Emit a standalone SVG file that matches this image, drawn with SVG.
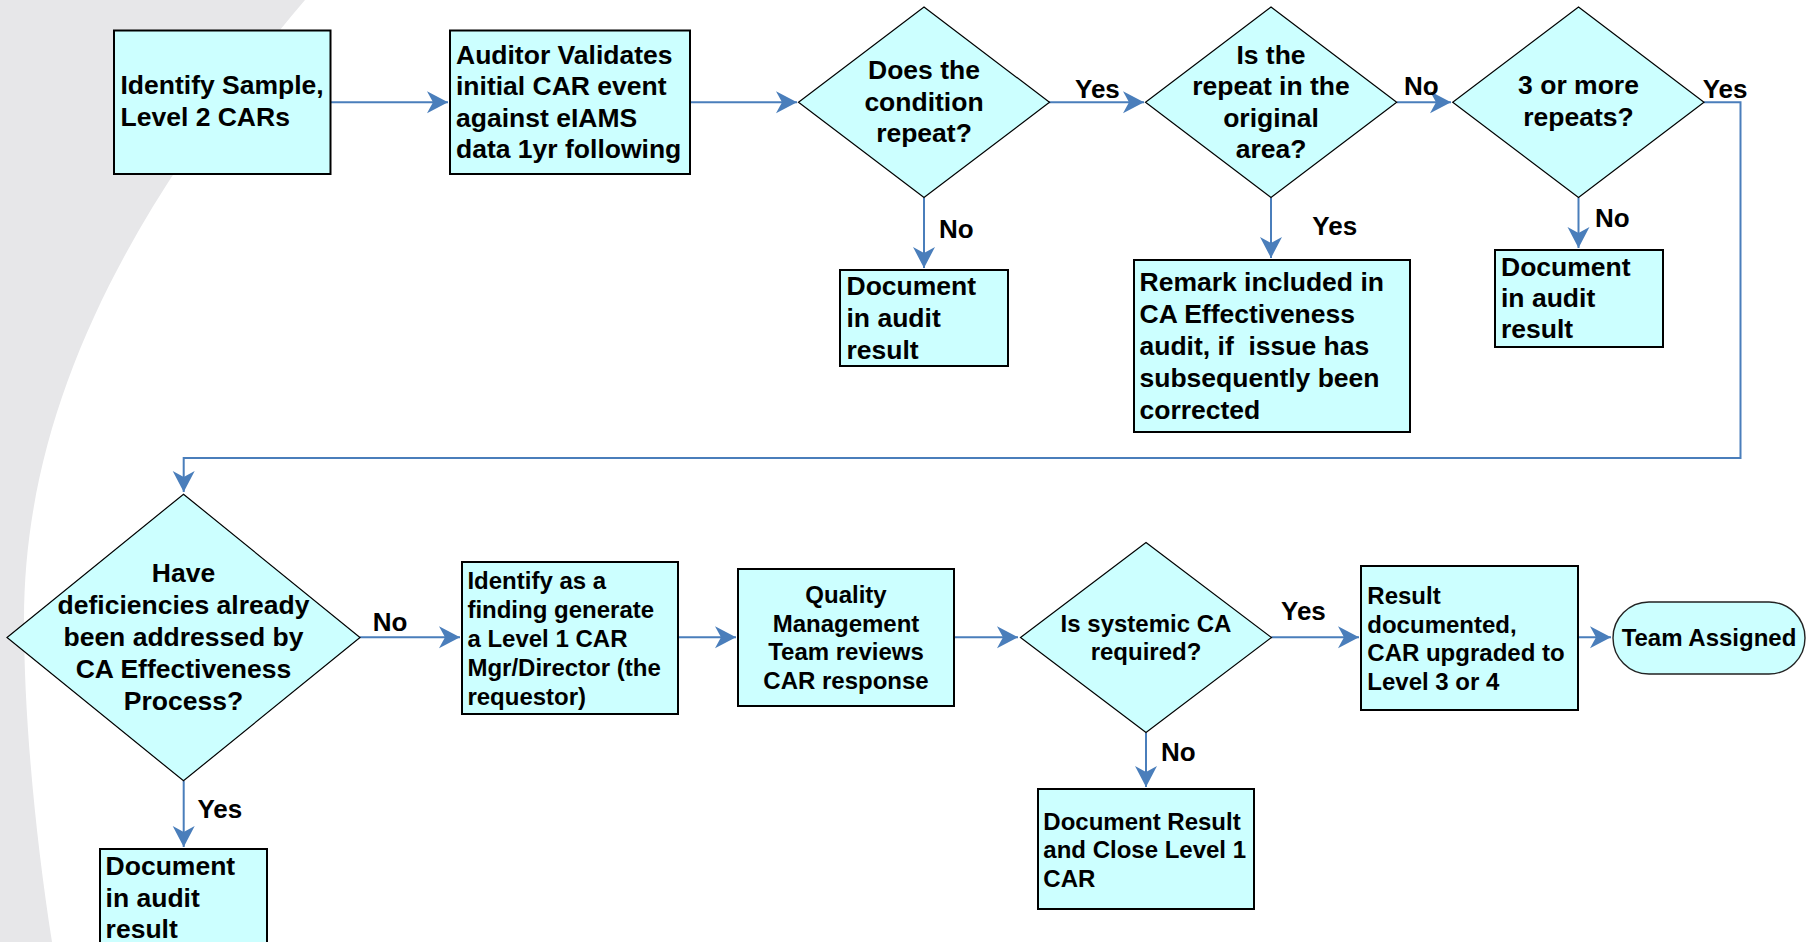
<svg xmlns="http://www.w3.org/2000/svg" width="1813" height="942" viewBox="0 0 1813 942">
<style>
.bg{fill:#E7E7E9}
.box{fill:#CCFFFF;stroke:#000;stroke-width:2}
.dia{fill:#CCFFFF;stroke:#000;stroke-width:1.2}
.term{fill:#CCFFFF;stroke:#222;stroke-width:1.4}
text{font-family:"Liberation Sans",Arial,sans-serif;font-weight:bold;fill:#000}
.t{font-size:26.5px}
.s{font-size:24px}
.c{text-anchor:middle}
.lbl{font-size:26px}
.con{fill:none;stroke:#4A7EBB;stroke-width:2}
</style>
<defs>
<marker id="ah" viewBox="-22 -12 24 24" refX="0" refY="0" markerWidth="24" markerHeight="24" markerUnits="userSpaceOnUse" orient="auto">
<path d="M0,0 L-21,-11 L-15,0 L-21,11 Z" fill="#4A7EBB"/>
</marker>
</defs>
<path class="bg" d="M0,0 L305,0 C135,200 24,400 24,620 C24,720 36,840 52,942 L0,942 Z"/>
<g id="connectors">
<path class="con" d="M331,102.3 H448" marker-end="url(#ah)"/>
<path class="con" d="M690,102.3 H797" marker-end="url(#ah)"/>
<path class="con" d="M1049,102.3 H1144" marker-end="url(#ah)"/>
<path class="con" d="M1397,102.3 H1451" marker-end="url(#ah)"/>
<path class="con" d="M1704,102.3 H1740.5 V458 H183.7 V492" marker-end="url(#ah)"/>
<path class="con" d="M924,197.5 V268" marker-end="url(#ah)"/>
<path class="con" d="M1271,197.5 V258" marker-end="url(#ah)"/>
<path class="con" d="M1578.5,197.5 V248" marker-end="url(#ah)"/>
<path class="con" d="M360,637.3 H460" marker-end="url(#ah)"/>
<path class="con" d="M678,637.3 H736" marker-end="url(#ah)"/>
<path class="con" d="M954,637.3 H1018" marker-end="url(#ah)"/>
<path class="con" d="M1271.5,637.3 H1359" marker-end="url(#ah)"/>
<path class="con" d="M1578,637.3 H1611" marker-end="url(#ah)"/>
<path class="con" d="M1146,732.5 V787" marker-end="url(#ah)"/>
<path class="con" d="M183.7,781 V847" marker-end="url(#ah)"/>
</g>
<g id="labels">
<text class="lbl" x="1075" y="98">Yes</text>
<text class="lbl" x="1404" y="94.8">No</text>
<text class="lbl" x="1702.7" y="98.3">Yes</text>
<text class="lbl" x="939" y="238">No</text>
<text class="lbl" x="1312.3" y="234.5">Yes</text>
<text class="lbl" x="1595" y="227">No</text>
<text class="lbl" x="372.8" y="630.5">No</text>
<text class="lbl" x="197.4" y="817.5">Yes</text>
<text class="lbl" x="1281" y="620">Yes</text>
<text class="lbl" x="1161" y="761">No</text>
</g>
<g id="identify-sample">
<rect class="box" x="114" y="30.5" width="216.5" height="143.5"/>
<text class="t" x="120.5" y="94.3">Identify Sample,</text>
<text class="t" x="120.5" y="126">Level 2 CARs</text>
</g>
<g id="auditor-validates">
<rect class="box" x="450" y="30.5" width="240" height="143.5"/>
<text class="t" x="456" y="63.5">Auditor Validates</text>
<text class="t" x="456" y="95">initial CAR event</text>
<text class="t" x="456" y="126.5">against eIAMS</text>
<text class="t" x="456" y="158">data 1yr following</text>
</g>
<g id="condition-repeat">
<polygon class="dia" points="924,7 1049.5,102.3 924,197.5 798.5,102.3"/>
<text class="t c" x="924" y="78.5">Does the</text>
<text class="t c" x="924" y="110.5">condition</text>
<text class="t c" x="924" y="142">repeat?</text>
</g>
<g id="original-area">
<polygon class="dia" points="1271,7 1396.7,102.3 1271,197.5 1145.5,102.3"/>
<text class="t c" x="1271" y="63.5">Is the</text>
<text class="t c" x="1271" y="95">repeat in the</text>
<text class="t c" x="1271" y="126.5">original</text>
<text class="t c" x="1271" y="158">area?</text>
</g>
<g id="three-repeats">
<polygon class="dia" points="1578.5,7 1704,102.3 1578.5,197.5 1452.7,102.3"/>
<text class="t c" x="1578.5" y="94.3">3 or more</text>
<text class="t c" x="1578.5" y="126">repeats?</text>
</g>
<g id="doc-1">
<rect class="box" x="840" y="270" width="168" height="96"/>
<text class="t" x="846.5" y="295">Document</text>
<text class="t" x="846.5" y="327">in audit</text>
<text class="t" x="846.5" y="358.5">result</text>
</g>
<g id="remark">
<rect class="box" x="1134" y="260" width="276" height="172"/>
<text class="t" x="1139.5" y="290.5">Remark included in</text>
<text class="t" x="1139.5" y="322.6">CA Effectiveness</text>
<text class="t" x="1139.5" y="354.7" style="white-space:pre">audit, if  issue has</text>
<text class="t" x="1139.5" y="386.8">subsequently been</text>
<text class="t" x="1139.5" y="418.9">corrected</text>
</g>
<g id="doc-2">
<rect class="box" x="1495" y="250" width="168" height="97"/>
<text class="t" x="1501" y="275.5">Document</text>
<text class="t" x="1501" y="306.5">in audit</text>
<text class="t" x="1501" y="338">result</text>
</g>
<g id="deficiencies">
<polygon class="dia" points="183.5,494.2 360,637.5 183.5,780.8 7,637.5"/>
<text class="t c" x="183.5" y="582">Have</text>
<text class="t c" x="183.5" y="614">deficiencies already</text>
<text class="t c" x="183.5" y="646">been addressed by</text>
<text class="t c" x="183.5" y="678">CA Effectiveness</text>
<text class="t c" x="183.5" y="710">Process?</text>
</g>
<g id="doc-3">
<rect class="box" x="100" y="849" width="167" height="120"/>
<text class="t" x="105.6" y="874.5">Document</text>
<text class="t" x="105.6" y="906.5">in audit</text>
<text class="t" x="105.6" y="938">result</text>
</g>
<g id="level1-car">
<rect class="box" x="462" y="562" width="216" height="152"/>
<text class="s" x="467.4" y="589">Identify as a</text>
<text class="s" x="467.4" y="617.9">finding generate</text>
<text class="s" x="467.4" y="646.8">a Level 1 CAR</text>
<text class="s" x="467.4" y="675.7">Mgr/Director (the</text>
<text class="s" x="467.4" y="704.6">requestor)</text>
</g>
<g id="qmt-review">
<rect class="box" x="738" y="569" width="216" height="137"/>
<text class="s c" x="846" y="603.3">Quality</text>
<text class="s c" x="846" y="631.8">Management</text>
<text class="s c" x="846" y="660.3">Team reviews</text>
<text class="s c" x="846" y="688.8">CAR response</text>
</g>
<g id="systemic-ca">
<polygon class="dia" points="1146,542.5 1271.5,637.5 1146,732.5 1020.5,637.5"/>
<text class="s c" x="1146" y="632.3">Is systemic CA</text>
<text class="s c" x="1146" y="660">required?</text>
</g>
<g id="close-level1">
<rect class="box" x="1038" y="789" width="216" height="120"/>
<text class="s" x="1043.3" y="829.6">Document Result</text>
<text class="s" x="1043.3" y="858">and Close Level 1</text>
<text class="s" x="1043.3" y="886.5">CAR</text>
</g>
<g id="upgraded">
<rect class="box" x="1361" y="566" width="217" height="144"/>
<text class="s" x="1367.3" y="604">Result</text>
<text class="s" x="1367.3" y="632.5">documented,</text>
<text class="s" x="1367.3" y="661">CAR upgraded to</text>
<text class="s" x="1367.3" y="689.5">Level 3 or 4</text>
</g>
<g id="team-assigned">
<rect class="term" x="1613" y="602" width="192" height="72" rx="36" ry="36"/>
<text class="s c" x="1709" y="646">Team Assigned</text>
</g>
</svg>
